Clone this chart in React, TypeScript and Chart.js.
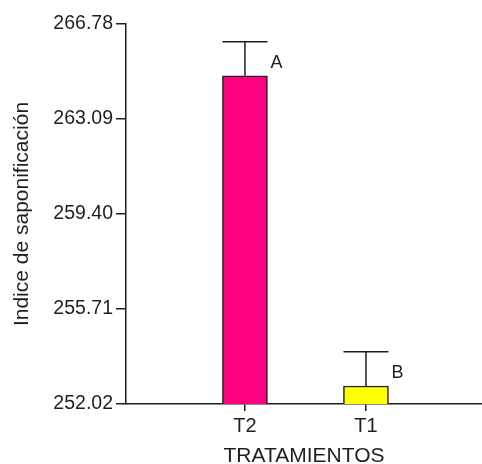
import React, { useEffect, useRef } from "react";
import { Chart, registerables } from "chart.js";

Chart.register(...registerables);

const categories = ["T2", "T1"];
const means = [264.77, 252.72];
const errorTops = [266.09, 254.05];
const groupLetters = ["A", "B"];
const barColors = ["#FF0080", "#FFFF00"];
const yTicks = [252.02, 255.71, 259.4, 263.09, 266.78];

const FONT = "'Liberation Sans', Arial, sans-serif";
const TEXT = "#1e1e24";

const errorPlugin = {
  id: "errorBars",
  afterDatasetsDraw(chart: any) {
    const meta = chart.getDatasetMeta(0);
    const yScale = chart.scales.y;
    const ctx = chart.ctx;
    ctx.save();
    meta.data.forEach((bar: any, i: number) => {
      const top = yScale.getPixelForValue(errorTops[i]);
      const half = bar.width / 2;
      ctx.strokeStyle = TEXT;
      ctx.lineWidth = 1.5;
      ctx.beginPath();
      ctx.moveTo(bar.x, bar.y);
      ctx.lineTo(bar.x, top);
      ctx.moveTo(bar.x - half, top);
      ctx.lineTo(bar.x + half, top);
      ctx.stroke();
      ctx.fillStyle = TEXT;
      ctx.font = `18px ${FONT}`;
      ctx.textAlign = "left";
      ctx.textBaseline = "middle";
      ctx.fillText(groupLetters[i], bar.x + half + 3, bar.y - 13);
    });
    ctx.restore();
  },
};

export default function App() {
  const ref = useRef<HTMLCanvasElement>(null);
  useEffect(() => {
    if (!ref.current) return;
    const chart = new Chart(ref.current, {
      type: "bar",
      data: {
        datasets: [
          {
            data: categories.map((c, i) => ({ x: i, y: means[i] })),
            backgroundColor: barColors,
            borderColor: TEXT,
            borderWidth: 1.5,
            borderSkipped: "bottom",
            barThickness: 45,
          } as any,
        ],
      },
      options: {
        animation: false,
        responsive: true,
        maintainAspectRatio: false,
        layout: { padding: { top: 24, right: 0, left: 0, bottom: 0 } },
        plugins: { legend: { display: false }, tooltip: { enabled: false } },
        scales: {
          x: {
            type: "linear",
            offset: false,
            min: -0.983,
            max: 1.959,
            afterBuildTicks: (s: any) => {
              s.ticks = categories.map((_, i) => ({ value: i }));
            },
            afterFit: (s: any) => {
              s.height = 60;
            },
            ticks: {
              callback: (v: any) => categories[v] ?? "",
              font: { family: FONT, size: 20 },
              color: TEXT,
              padding: 3,
              maxRotation: 0,
            },
            grid: { offset: false, drawOnChartArea: false, drawTicks: true, tickLength: 7, color: TEXT, lineWidth: 1.5 },
            border: { display: true, color: TEXT, width: 1.5 },
            title: {
              display: true,
              text: "TRATAMIENTOS",
              font: { family: FONT, size: 21 },
              color: TEXT,
              padding: { top: 0, bottom: -5 },
            },
          },
          y: {
            type: "linear",
            min: 252.02,
            max: 266.78,
            afterBuildTicks: (s: any) => {
              s.ticks = yTicks.map((v) => ({ value: v }));
            },
            afterFit: (s: any) => {
              s.width = 126;
            },
            ticks: {
              callback: (v: any) => Number(v).toFixed(2),
              font: { family: FONT, size: 19.5 },
              color: TEXT,
              padding: 3,
            },
            grid: { drawOnChartArea: false, drawTicks: true, tickLength: 10, color: TEXT, lineWidth: 1.5 },
            border: { display: true, color: TEXT, width: 1.5 },
            title: {
              display: true,
              text: "Indice de saponificación",
              font: { family: FONT, size: 21 },
              color: TEXT,
              padding: { top: 10, bottom: 0 },
            },
          },
        },
      },
      plugins: [errorPlugin],
    });
    return () => chart.destroy();
  }, []);
  return (
    <div style={{ position: "fixed", left: 0, top: 0, width: 482, height: 464 }}>
      <canvas ref={ref} />
    </div>
  );
}
